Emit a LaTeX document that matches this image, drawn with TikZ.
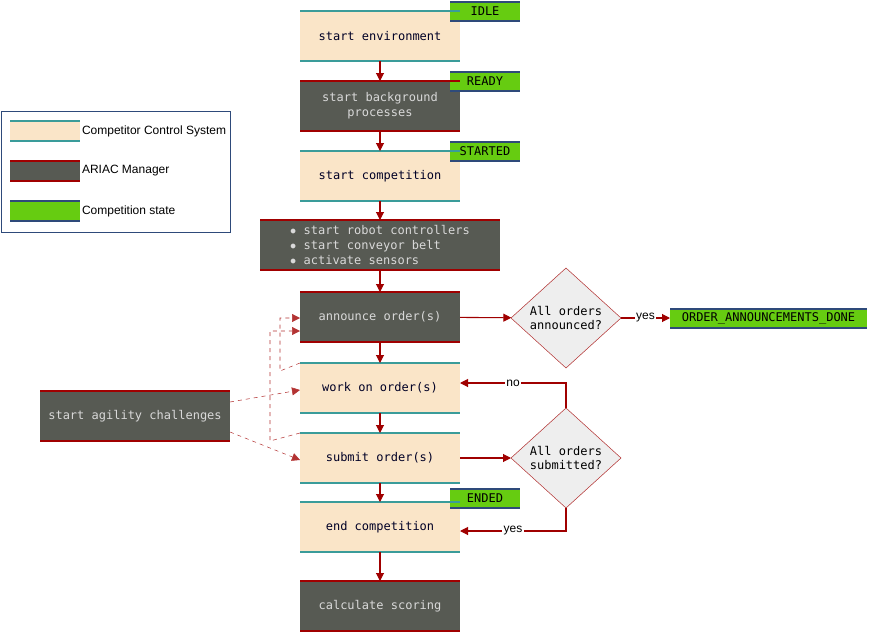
\documentclass[tikz,border=0pt]{standalone}
\usepackage{fontspec}
\setmainfont{Liberation Sans}
\newfontfamily\mono{DejaVu Sans Mono}
\usetikzlibrary{arrows.meta,shapes.geometric}
\definecolor{beige}{HTML}{FAE5C8}
\definecolor{tealc}{HTML}{3A9C9A}
\definecolor{darkb}{HTML}{575A53}
\definecolor{redc}{HTML}{A00000}
\definecolor{greenc}{HTML}{66CC11}
\definecolor{bluec}{HTML}{2E4A7A}
\definecolor{dgray}{HTML}{EEEEEE}
\begin{document}
\begin{tikzpicture}[x=0.75pt,y=-0.75pt,
  every node/.style={inner sep=0pt,outer sep=0pt},
  ccs/.style={fill=beige,minimum width=120pt,minimum height=37.5pt,font=\mono\fontsize{9}{11}\selectfont,text=black!85!blue,align=center},
  mgr/.style={fill=darkb,minimum width=120pt,minimum height=37.5pt,font=\mono\fontsize{9}{11}\selectfont,text=gray!30,align=center},
  tag/.style={fill=greenc,minimum width=52.5pt,minimum height=14.25pt,font=\mono\fontsize{9}{11}\selectfont},
  dia/.style={diamond,draw=redc!80,fill=dgray,minimum width=82.5pt,minimum height=75pt,font=\mono\fontsize{9}{11}\selectfont,align=center},
  arr/.style={draw=redc,-{Triangle[length=6pt,width=6pt]},thick},
  darr/.style={draw=redc!80,dashed,-{Triangle[length=6pt,width=6pt]}},
  lbl/.style={font=\fontsize{9}{11}\selectfont,fill=white,inner sep=1pt}]
\useasboundingbox (0,0) rectangle (869,632);
% legend
\draw[bluec] (1,111) rectangle (230,232);
\node[fill=beige,minimum width=52.5pt,minimum height=15pt] (l1) at (45,131) {};
\node[fill=darkb,minimum width=52.5pt,minimum height=15pt] (l2) at (45,171) {};
\node[fill=greenc,minimum width=52.5pt,minimum height=15pt] (l3) at (45,211) {};
\node[anchor=west,font=\fontsize{9}{11}\selectfont] (t1) at (82,131) {Competitor Control System};
\node[anchor=west,font=\fontsize{9}{11}\selectfont] (t2) at (82,171) {ARIAC Manager};
\node[anchor=west,font=\fontsize{9}{11}\selectfont] (t3) at (82,211) {Competition state};
% main
\node[ccs] (env) at (380,36) {start environment};
\node[mgr] (bg) at (380,106) {start background\\processes};
\node[ccs] (comp) at (380,176) {start competition};
\node[mgr,minimum width=180pt,align=left] (ctrl) at (380,245) {$\bullet$ start robot controllers\\$\bullet$ start conveyor belt\\$\bullet$ activate sensors};
\node[mgr] (ann) at (380,317) {announce order(s)};
\node[ccs] (work) at (380,388) {work on order(s)};
\node[ccs] (sub) at (380,458) {submit order(s)};
\node[ccs] (endc) at (380,527) {end competition};
\node[mgr] (score) at (380,606) {calculate scoring};
\node[mgr,minimum width=142.5pt] (agil) at (135,416) {start agility challenges};
\node[tag] (idle) at (485,11.5) {IDLE};
\node[tag] (ready) at (485,81.5) {READY};
\node[tag] (started) at (485,151.5) {STARTED};
\node[tag] (ended) at (485,498.5) {ENDED};
\node[tag,minimum width=147.75pt] (oad) at (768.5,318) {ORDER\_ANNOUNCEMENTS\_DONE};
\node[dia] (d1) at (566,318) {All orders\\announced?};
\node[dia] (d2) at (566,458) {All orders\\submitted?};
% edge lines
\foreach \n in {env,comp,work,sub,endc,l1}
  \draw[tealc,line width=1.5pt] (\n.north west)--(\n.north east) (\n.south west)--(\n.south east);
\foreach \n in {bg,ctrl,ann,score,agil,l2}
  \draw[redc,line width=1.5pt] (\n.north west)--(\n.north east) (\n.south west)--(\n.south east);
\foreach \n in {idle,ready,started,ended,oad,l3}
  \draw[bluec,line width=1.5pt] (\n.north west)--(\n.north east) (\n.south west)--(\n.south east);
% arrows
\draw[arr] (env)--(bg);
\draw[arr] (bg)--(comp);
\draw[arr] (comp)--(ctrl);
\draw[arr] (ctrl)--(ann);
\draw[arr] (ann)--(work);
\draw[arr] (work)--(sub);
\draw[arr] (sub)--(endc);
\draw[arr] (endc)--(score);
\draw[arr] (ann)--(d1);
\draw[arr] (d1)-- node[lbl]{yes} (oad);
\draw[arr] (sub.east)--(d2.west);
\draw[arr] (d2.north)--(566,383)-- node[lbl,pos=0.5]{no} (work.east|-0,383);
\draw[arr] (d2.south)--(566,531)-- node[lbl,pos=0.5]{yes} (endc.east|-0,531);
\draw[darr] (agil.east|-0,402)--(work.west|-0,390);
\draw[darr] (agil.east|-0,432)--(sub.west|-0,460);
\draw[darr] (work.north west)--(280,371)--(280,318)--(ann.west|-0,318);
\draw[darr] (sub.north west)--(270,441)--(270,331)--(ann.west|-0,331);
\end{tikzpicture}
\end{document}
